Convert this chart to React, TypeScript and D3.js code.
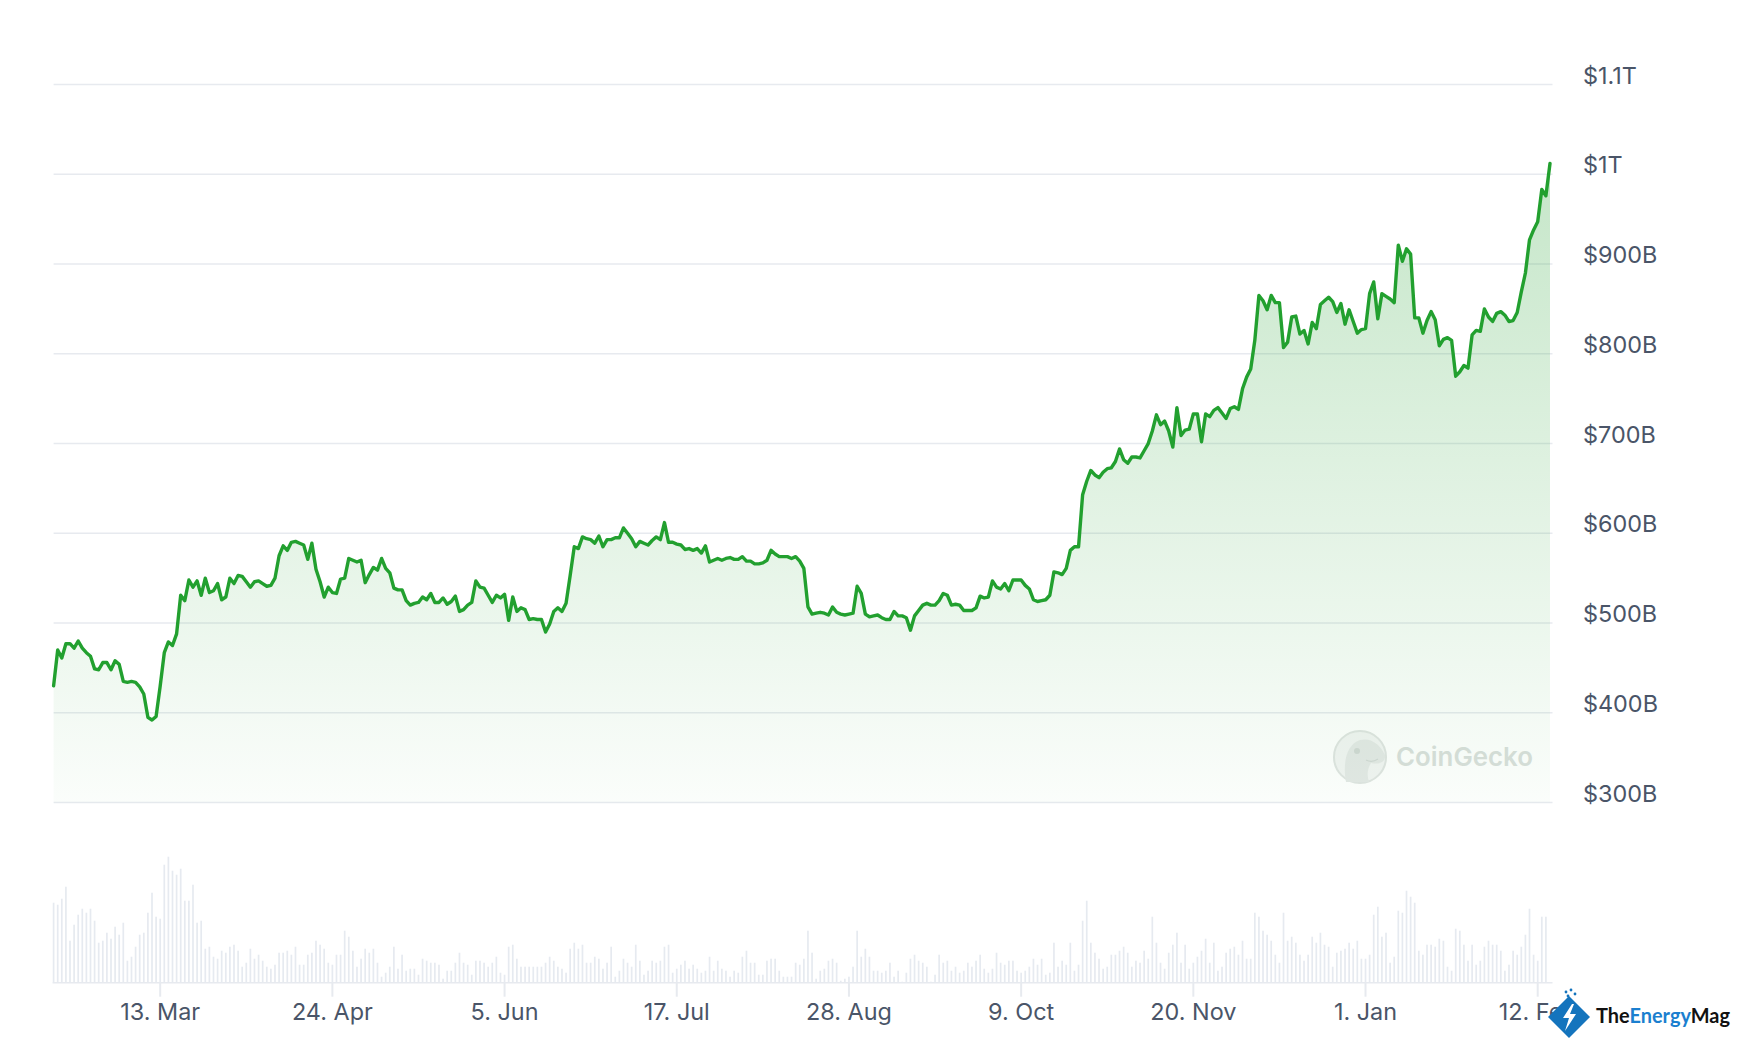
import { useEffect, useRef } from 'react';
import * as d3 from 'd3';

// Bitcoin market cap, daily, in $B, starting 15 Feb 2023
const startDate = new Date(Date.UTC(2023, 1, 15));

const marketCap = [
  430, 470, 461, 477, 477, 472, 480, 472, 467, 463, 449, 448, 456, 456, 448, 458, 454, 435, 434, 435,
  434, 429, 421, 395, 392, 396, 430, 467, 479, 475, 488, 531, 525, 548, 540, 547, 531, 550, 534, 536,
  544, 526, 529, 550, 544, 553, 552, 546, 540, 546, 547, 544, 541, 542, 550, 575, 586, 581, 590, 591,
  589, 587, 571, 589, 560, 546, 529, 540, 534, 533, 549, 550, 572, 570, 568, 570, 545, 554, 562, 559,
  572, 561, 556, 539, 537, 537, 525, 520, 522, 523, 529, 526, 533, 523, 523, 528, 521, 524, 530, 513,
  515, 520, 523, 547, 540, 539, 531, 523, 531, 528, 532, 503, 529, 513, 517, 515, 504, 505, 504, 504,
  490, 499, 513, 517, 513, 522, 553, 585, 583, 596, 594, 593, 589, 597, 585, 593, 593, 595, 595, 606,
  600, 594, 585, 591, 589, 587, 592, 596, 593, 612, 590, 590, 588, 587, 582, 583, 581, 583, 578, 586,
  568, 570, 572, 570, 572, 573, 571, 571, 574, 569, 569, 566, 566, 567, 570, 581, 577, 574, 574, 574,
  572, 574, 569, 561, 518, 510, 511, 512, 511, 509, 518, 512, 510, 509, 510, 511, 541, 533, 510, 507,
  508, 509, 506, 504, 504, 513, 508, 508, 506, 492, 508, 514, 520, 522, 520, 520, 525, 533, 531, 520,
  521, 520, 514, 514, 514, 517, 530, 528, 529, 547, 540, 538, 544, 536, 548, 548, 548, 542, 538, 526,
  524, 525, 526, 531, 557, 556, 554, 561, 581, 585, 585, 643, 658, 670, 665, 662, 668, 672, 673, 680,
  694, 682, 678, 685, 685, 684, 692, 700, 714, 732, 721, 725, 714, 696, 740, 709, 715, 716, 733, 733,
  702, 733, 730, 737, 740, 734, 728, 739, 741, 738, 761, 774, 783, 815, 865, 859, 849, 865, 857, 857,
  807, 813, 841, 842, 822, 826, 811, 835, 828, 855, 859, 863, 858, 846, 856, 833, 849, 836, 823, 827,
  828, 867, 880, 839, 867, 864, 861, 857, 921, 903, 917, 911, 840, 840, 823, 837, 847, 838, 809, 816,
  818, 815, 775, 780, 787, 784, 821, 826, 825, 850, 841, 836, 845, 847, 843, 836, 837, 846, 869, 890,
  927, 938, 947, 983, 976, 1012,
];

// 24h volume, daily, in $B
const volume = [
  40, 39, 42, 48, 21, 29, 34, 37, 35, 37, 31, 20, 21, 25, 22, 28, 24, 30, 11, 13,
  18, 24, 25, 35, 45, 33, 32, 59, 63, 56, 54, 57, 41, 41, 49, 30, 31, 17, 18, 13,
  12, 16, 15, 18, 19, 16, 8, 10, 17, 12, 14, 11, 8, 7, 9, 15, 15, 16, 14, 18,
  9, 9, 14, 15, 21, 19, 17, 10, 9, 14, 14, 26, 23, 16, 8, 12, 17, 15, 17, 10,
  3, 5, 8, 18, 7, 14, 6, 7, 7, 4, 12, 11, 10, 10, 9, 2, 6, 6, 10, 15,
  10, 9, 4, 11, 11, 10, 8, 10, 13, 5, 4, 18, 19, 12, 8, 8, 8, 8, 8, 8,
  10, 13, 11, 8, 7, 5, 17, 20, 17, 19, 10, 10, 13, 12, 7, 10, 18, 3, 6, 12,
  10, 8, 19, 11, 4, 6, 11, 10, 11, 18, 19, 5, 7, 9, 11, 7, 9, 7, 5, 6,
  13, 6, 11, 7, 6, 3, 6, 5, 13, 16, 10, 10, 4, 4, 11, 12, 12, 6, 3, 3,
  3, 10, 9, 12, 26, 15, 2, 6, 7, 11, 12, 10, 1, 2, 3, 8, 26, 13, 17, 13,
  6, 6, 5, 6, 10, 3, 6, 0.5, 5, 12, 14, 11, 10, 8, 0.5, 4, 14, 10, 11, 6,
  8, 5, 6, 10, 8, 11, 14, 7, 5, 7, 15, 10, 9, 11, 11, 6, 5, 6, 8, 12,
  9, 12, 4, 5, 20, 8, 11, 9, 20, 6, 9, 31, 41, 20, 15, 12, 7, 8, 14, 14,
  16, 18, 15, 8, 11, 10, 16, 12, 33, 20, 10, 7, 15, 19, 25, 10, 19, 7, 10, 13,
  16, 22, 10, 20, 6, 8, 15, 17, 18, 14, 21, 12, 12, 35, 33, 26, 24, 21, 14, 10,
  35, 21, 23, 20, 14, 11, 14, 23, 20, 25, 19, 18, 8, 15, 16, 17, 20, 17, 21, 12,
  12, 14, 34, 38, 23, 25, 10, 13, 36, 35, 46, 43, 40, 16, 14, 19, 19, 18, 22, 21,
  8, 6, 27, 26, 19, 11, 19, 9, 11, 18, 21, 19, 19, 16, 6, 9, 16, 14, 18, 24,
  37, 14, 11, 33, 33,
];

const yTicks = [300, 400, 500, 600, 700, 800, 900, 1000, 1100];
const yTickLabels = ['$300B', '$400B', '$500B', '$600B', '$700B', '$800B', '$900B', '$1T', '$1.1T'];
const xTickDates = ['2023-03-13', '2023-04-24', '2023-06-05', '2023-07-17', '2023-08-28', '2023-10-09', '2023-11-20', '2024-01-01', '2024-02-12'];

const dayDate = (i: number) => new Date(startDate.getTime() + i * 86400000);

export default function App() {
  const svgRef = useRef<SVGSVGElement>(null);

  useEffect(() => {
    if (!svgRef.current) return;
    const W = 1750;
    const H = 1058;
    const plotLeft = 53.6;
    const plotRight = 1552.5;
    const plotTop = 84.5;
    const plotBottom = 802.6;
    const volBase = 982.7;
    const labelColor = '#4a5568';
    const gridColor = '#e7eaef';
    const green = '#22a02f';
    const labelFont = 'Inter, "Noto Sans", sans-serif';

    d3.select(svgRef.current).selectAll('*').remove();
    const svg = d3.select(svgRef.current).attr('width', W).attr('height', H);

    svg.append('rect').attr('width', W).attr('height', H).attr('fill', '#fff');

    const x = d3.scaleUtc()
      .domain([dayDate(0), dayDate(marketCap.length - 1)])
      .range([plotLeft, 1550]);

    const y = d3.scaleLinear()
      .domain([300, 1100])
      .range([plotBottom, plotTop]);

    const yVol = d3.scaleLinear()
      .domain([0, 63])
      .range([volBase, volBase - 126]);

    // 渐变填充
    const defs = svg.append('defs');
    const grad = defs.append('linearGradient')
      .attr('id', 'capFill')
      .attr('gradientUnits', 'userSpaceOnUse')
      .attr('x1', 0).attr('x2', 0)
      .attr('y1', plotTop).attr('y2', plotBottom);
    grad.append('stop').attr('offset', '0%').attr('stop-color', green).attr('stop-opacity', 0.29);
    grad.append('stop').attr('offset', '100%').attr('stop-color', green).attr('stop-opacity', 0.02);

    // 网格
    svg.append('g')
      .selectAll('line')
      .data(yTicks)
      .enter()
      .append('line')
      .attr('x1', plotLeft)
      .attr('x2', plotRight)
      .attr('y1', d => y(d))
      .attr('y2', d => y(d))
      .attr('stroke', gridColor)
      .attr('stroke-width', 1.5);

    // 右侧 Y 轴标签
    svg.append('g')
      .selectAll('text')
      .data(yTicks)
      .enter()
      .append('text')
      .attr('x', 1583)
      .attr('y', d => y(d) - 1)
      .attr('fill', labelColor)
      .attr('font-family', labelFont)
      .attr('font-size', 23.4)
      .text((_, i) => yTickLabels[i]);

    // CoinGecko 水印
    const wm = svg.append('g').attr('opacity', 0.9);
    wm.append('circle')
      .attr('cx', 1360).attr('cy', 757).attr('r', 26)
      .attr('fill', '#f1f3f2').attr('stroke', '#dde2df').attr('stroke-width', 2);
    wm.append('path')
      .attr('d', 'M1346,782 C1343,766 1345,745 1360,740 C1372,737 1381,746 1385,755 C1386,762 1379,765 1371,763 C1367,769 1367,776 1369,782 Z')
      .attr('fill', '#e2e6e4');
    wm.append('circle').attr('cx', 1357).attr('cy', 751).attr('r', 3).attr('fill', '#cdd4d0');
    wm.append('path')
      .attr('d', 'M1366,760 Q1372,763 1378,759')
      .attr('fill', 'none').attr('stroke', '#cdd4d0').attr('stroke-width', 1.2);
    wm.append('text')
      .attr('x', 1396)
      .attr('y', 766)
      .attr('fill', '#d6dcd9')
      .attr('font-family', labelFont)
      .attr('font-weight', 600)
      .attr('font-size', 26)
      .attr('textLength', 137)
      .attr('lengthAdjust', 'spacingAndGlyphs')
      .text('CoinGecko');

    // 面积 + 折线
    const area = d3.area<number>()
      .x((_, i) => x(dayDate(i)))
      .y0(plotBottom)
      .y1(d => y(d))
      .curve(d3.curveLinear);

    svg.append('path')
      .datum(marketCap)
      .attr('fill', 'url(#capFill)')
      .attr('d', area);

    const line = d3.line<number>()
      .x((_, i) => x(dayDate(i)))
      .y(d => y(d))
      .curve(d3.curveLinear);

    svg.append('path')
      .datum(marketCap)
      .attr('fill', 'none')
      .attr('stroke', green)
      .attr('stroke-width', 3.4)
      .attr('stroke-linejoin', 'round')
      .attr('stroke-linecap', 'round')
      .attr('d', line);

    // 成交量
    svg.append('g')
      .selectAll('rect')
      .data(volume)
      .enter()
      .append('rect')
      .attr('x', (_, i) => x(dayDate(i)) - 0.85)
      .attr('y', d => yVol(d))
      .attr('width', 1.7)
      .attr('height', d => volBase - yVol(d))
      .attr('fill', '#e6eaf0');

    svg.append('line')
      .attr('x1', plotLeft - 1)
      .attr('x2', plotRight)
      .attr('y1', volBase)
      .attr('y2', volBase)
      .attr('stroke', gridColor)
      .attr('stroke-width', 1.5);

    // X 轴刻度与标签
    const xTicks = xTickDates.map(s => new Date(s + 'T00:00:00Z'));
    const fmt = d3.utcFormat('%-d. %b');

    svg.append('g')
      .selectAll('line')
      .data(xTicks)
      .enter()
      .append('line')
      .attr('x1', d => x(d))
      .attr('x2', d => x(d))
      .attr('y1', volBase)
      .attr('y2', volBase + 14)
      .attr('stroke', gridColor)
      .attr('stroke-width', 2);

    svg.append('g')
      .selectAll('text')
      .data(xTicks)
      .enter()
      .append('text')
      .attr('x', d => x(d))
      .attr('y', 1020)
      .attr('text-anchor', 'middle')
      .attr('fill', labelColor)
      .attr('font-family', labelFont)
      .attr('font-size', 23.4)
      .text(d => fmt(d));

    // TheEnergyMag 标志
    const logo = svg.append('g');
    logo.append('polygon')
      .attr('points', '1569,996 1590,1017 1569,1038 1548,1017')
      .attr('fill', '#1474bd');
    logo.append('path')
      .attr('d', 'M1572,1004 L1563,1018 L1569,1018 L1565,1031 L1576,1014 L1570,1014 L1574,1004 Z')
      .attr('fill', '#fff');
    logo.append('g')
      .selectAll('circle')
      .data([[1566, 992], [1571, 990], [1575, 994], [1568, 996]])
      .enter()
      .append('circle')
      .attr('cx', d => d[0]).attr('cy', d => d[1]).attr('r', 1.4)
      .attr('fill', '#1474bd');
    const lt = logo.append('text')
      .attr('x', 1596)
      .attr('y', 1023)
      .attr('font-family', 'Lato, "Open Sans", sans-serif')
      .attr('font-weight', 700)
      .attr('font-size', 21)
      .attr('textLength', 134)
      .attr('lengthAdjust', 'spacingAndGlyphs');
    lt.append('tspan').attr('fill', '#111').text('The');
    lt.append('tspan').attr('fill', '#1b7fcf').text('Energy');
    lt.append('tspan').attr('fill', '#111').text('Mag');
  }, []);

  return (
    <div style={{ position: 'absolute', left: 0, top: 0, width: 1750, height: 1058, background: '#fff' }}>
      <svg ref={svgRef} style={{ display: 'block' }} />
    </div>
  );
}
